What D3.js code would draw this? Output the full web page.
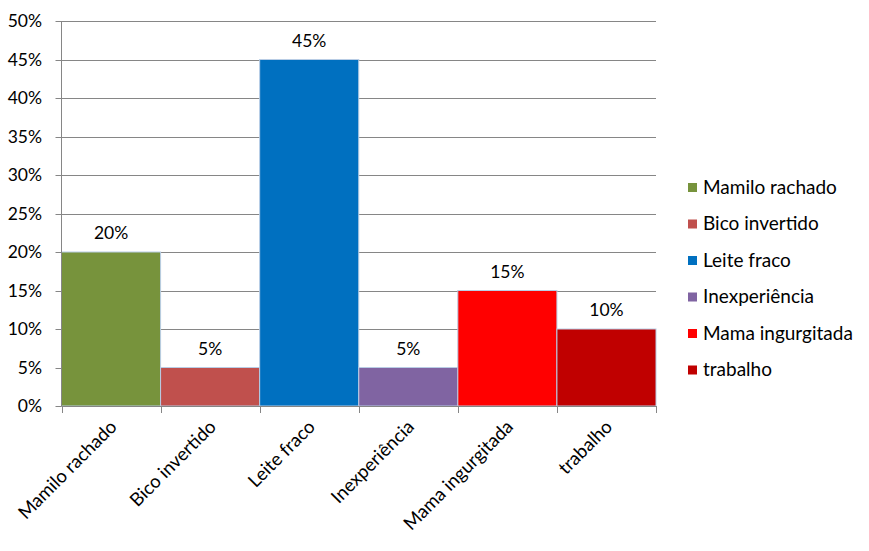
<!DOCTYPE html>
<html><head><meta charset="utf-8">
<script src="https://cdn.jsdelivr.net/npm/d3@7"></script>
<style>body{margin:0;background:#fff}svg{display:block}text{font-family:Lato,"Open Sans",sans-serif;fill:#000}</style>
</head><body><svg id="c" width="869" height="551"></svg>
<script>
const categories = ["Mamilo rachado","Bico invertido","Leite fraco","Inexperiência","Mama ingurgitada","trabalho"];
const values = [0.20,0.05,0.45,0.05,0.15,0.10];
const colors = ["#77933c","#c0504d","#0070c0","#8064a2","#ff0000","#c00000"];
const yTicks = [0,0.05,0.10,0.15,0.20,0.25,0.30,0.35,0.40,0.45,0.50];

const svg = d3.select("#c");
const L=61.5, R=656, T=21, B=406;
const x = d3.scaleBand().domain(categories).range([L,R]).padding(0);
const y = d3.scaleLinear().domain([0,0.5]).range([B,T]);
const fmt = d3.format(".0%");

svg.append("g").selectAll("line").data(yTicks).join("line")
  .attr("x1",L-6).attr("x2",R).attr("y1",d=>Math.round(y(d))+0.5).attr("y2",d=>Math.round(y(d))+0.5)
  .attr("stroke","#868686").attr("stroke-width",1);

svg.append("g").selectAll("text").data(yTicks).join("text")
  .attr("x",42).attr("y",d=>y(d)).attr("dy","0.35em").attr("text-anchor","end")
  .attr("font-size",17.5).text(fmt);

svg.append("g").selectAll("rect").data(values).join("rect")
  .attr("x",(d,i)=>x(categories[i])).attr("width",x.bandwidth())
  .attr("y",d=>y(d)).attr("height",d=>B-y(d))
  .attr("fill",(d,i)=>colors[i]).attr("stroke","#b9cde5").attr("stroke-width",1);

svg.append("line").attr("x1",L).attr("x2",L).attr("y1",T).attr("y2",B).attr("stroke","#868686");
svg.append("line").attr("x1",L).attr("x2",R).attr("y1",B+0.5).attr("y2",B+0.5).attr("stroke","#868686");
const bounds = categories.map(c=>x(c)).concat([R]);
svg.append("g").selectAll("line").data(bounds).join("line")
  .attr("x1",d=>Math.round(d)+0.5).attr("x2",d=>Math.round(d)+0.5).attr("y1",B).attr("y2",B+7)
  .attr("stroke","#868686");

svg.append("g").selectAll("text").data(values).join("text")
  .attr("x",(d,i)=>x(categories[i])+x.bandwidth()/2).attr("y",d=>y(d)-19).attr("dy","0.35em")
  .attr("text-anchor","middle").attr("font-size",17.5).text(fmt);

svg.append("g").selectAll("text").data(categories).join("text")
  .attr("transform",d=>`translate(${x(d)+x.bandwidth()/2+7},${B+22}) rotate(-45)`)
  .attr("text-anchor","end").attr("font-size",18.5).text(d=>d);

const lg = svg.append("g").selectAll("g").data(categories).join("g")
  .attr("transform",(d,i)=>`translate(688,${187+i*36.5})`);
lg.append("rect").attr("x",0).attr("y",-4).attr("width",9).attr("height",9).attr("fill",(d,i)=>colors[i]);
lg.append("text").attr("x",15).attr("y",0).attr("dy","0.35em").attr("font-size",19).text(d=>d);
</script></body></html>
